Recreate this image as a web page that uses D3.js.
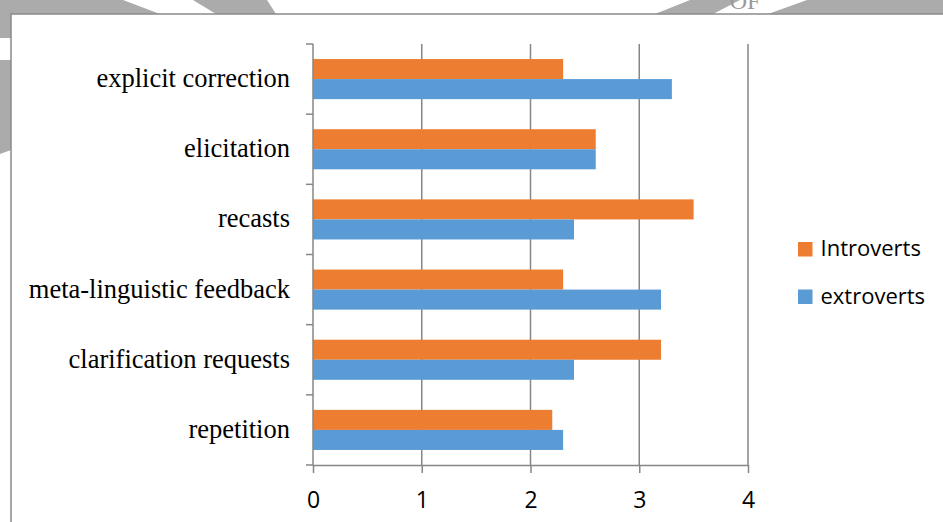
<!DOCTYPE html>
<html>
<head>
<meta charset="utf-8">
<script src="https://cdn.jsdelivr.net/npm/d3@7"></script>
<style>
  html, body { margin: 0; padding: 0; background: #fff; }
  svg { display: block; }
</style>
</head>
<body>
<svg id="chart" width="943" height="522"></svg>
<script>
(function() {
  'use strict';

  var categories = ['explicit correction', 'elicitation', 'recasts',
    'meta-linguistic feedback', 'clarification requests', 'repetition'];
  var seriesNames = ['Introverts', 'extroverts'];
  var introverts = [2.3, 2.6, 3.5, 2.3, 3.2, 2.2];
  var extroverts = [3.3, 2.6, 2.4, 3.2, 2.4, 2.3];
  var xTicks = [0, 1, 2, 3, 4];

  var colors = { Introverts: '#ed7d31', extroverts: '#5b9bd5' };
  var gridColor = '#868686';

  var svg = d3.select('#chart');

  // scanned page background bits behind the chart frame
  var bg = svg.append('g').attr('fill', '#ababab');
  [
    [[0, 0], [123, 0], [160, 14], [0, 14]],
    [[193, 0], [267, 0], [276, 14], [216, 14]],
    [[0, 14], [11, 14], [11, 38], [0, 38]],
    [[0, 60], [11, 60], [11, 150], [0, 154]],
    [[690, 0], [740, 0], [713, 14], [655, 14]],
    [[807, 0], [943, 0], [943, 14], [768, 14]]
  ].forEach(function(p) {
    bg.append('polygon').attr('points', p.map(function(d) { return d.join(','); }).join(' '));
  });
  svg.append('text')
    .attr('x', 745).attr('y', 9)
    .attr('text-anchor', 'middle')
    .attr('font-family', 'Liberation Serif')
    .attr('font-size', 24)
    .attr('fill', '#9a9a9a')
    .text('OF');

  // chart frame
  svg.append('path')
    .attr('d', 'M11,522V14H943')
    .attr('fill', 'none')
    .attr('stroke', '#8a8a8a')
    .attr('stroke-width', 1.5);

  var left = 313, right = 748, top = 44, bottom = 465;

  var x = d3.scaleLinear().domain([0, 4]).range([left, right]);
  var y = d3.scaleBand().domain(categories).range([top, bottom]);
  var sub = d3.scaleBand().domain(seriesNames).range([0, y.bandwidth()])
    .paddingInner(0).paddingOuter(0.75);

  // vertical gridlines
  svg.append('g')
    .selectAll('line')
    .data(xTicks.slice(1))
    .join('line')
    .attr('x1', function(d) { return x(d); })
    .attr('x2', function(d) { return x(d); })
    .attr('y1', top).attr('y2', bottom)
    .attr('stroke', gridColor)
    .attr('stroke-width', 1.5);

  // bars
  var rows = categories.map(function(c, i) {
    return { cat: c, Introverts: introverts[i], extroverts: extroverts[i] };
  });
  var groups = svg.append('g')
    .selectAll('g')
    .data(rows)
    .join('g')
    .attr('transform', function(d) { return 'translate(0,' + y(d.cat) + ')'; });
  groups.selectAll('rect')
    .data(function(d) { return seriesNames.map(function(s) { return { s: s, v: d[s] }; }); })
    .join('rect')
    .attr('x', x(0))
    .attr('y', function(d) { return sub(d.s); })
    .attr('width', function(d) { return x(d.v) - x(0); })
    .attr('height', sub.bandwidth())
    .attr('fill', function(d) { return colors[d.s]; });

  // x axis
  var xAxis = svg.append('g')
    .attr('transform', 'translate(0,' + bottom + ')')
    .call(d3.axisBottom(x).tickValues(xTicks).tickFormat(d3.format('d'))
      .tickSize(8).tickPadding(19).tickSizeOuter(0));
  xAxis.select('.domain').attr('stroke', gridColor).attr('stroke-width', 1.5);
  xAxis.selectAll('.tick line').attr('stroke', gridColor).attr('stroke-width', 1.5);
  xAxis.selectAll('text')
    .attr('font-family', '"Open Sans", Lato, sans-serif')
    .attr('font-size', 23)
    .attr('fill', '#000');

  // y axis: category boundaries as ticks
  var yAxis = svg.append('g');
  yAxis.append('line')
    .attr('x1', left).attr('x2', left)
    .attr('y1', top).attr('y2', bottom)
    .attr('stroke', gridColor).attr('stroke-width', 1.5);
  var bounds = categories.map(function(c) { return y(c); }).concat([bottom]);
  yAxis.selectAll('line.tick')
    .data(bounds)
    .join('line')
    .attr('class', 'tick')
    .attr('x1', left - 7).attr('x2', left)
    .attr('y1', function(d) { return d; })
    .attr('y2', function(d) { return d; })
    .attr('stroke', gridColor).attr('stroke-width', 1.5);
  yAxis.selectAll('text')
    .data(categories)
    .join('text')
    .attr('x', 290)
    .attr('y', function(d) { return y(d) + y.bandwidth() / 2; })
    .attr('dy', '0.3em')
    .attr('text-anchor', 'end')
    .attr('font-family', '"Liberation Serif", "Times New Roman", serif')
    .attr('font-size', 26.5)
    .attr('fill', '#000')
    .text(function(d) { return d; });

  // legend
  var legend = svg.append('g')
    .selectAll('g')
    .data(seriesNames)
    .join('g')
    .attr('transform', function(d, i) { return 'translate(798,' + (242 + i * 47.5) + ')'; });
  legend.append('rect')
    .attr('width', 14.5).attr('height', 14.5)
    .attr('fill', function(d) { return colors[d]; });
  legend.append('text')
    .attr('x', 22.5).attr('y', 14.3)
    .attr('font-family', '"Open Sans", Lato, sans-serif')
    .attr('font-size', 22)
    .attr('fill', '#000')
    .text(function(d) { return d; });
})();
</script>
</body>
</html>
